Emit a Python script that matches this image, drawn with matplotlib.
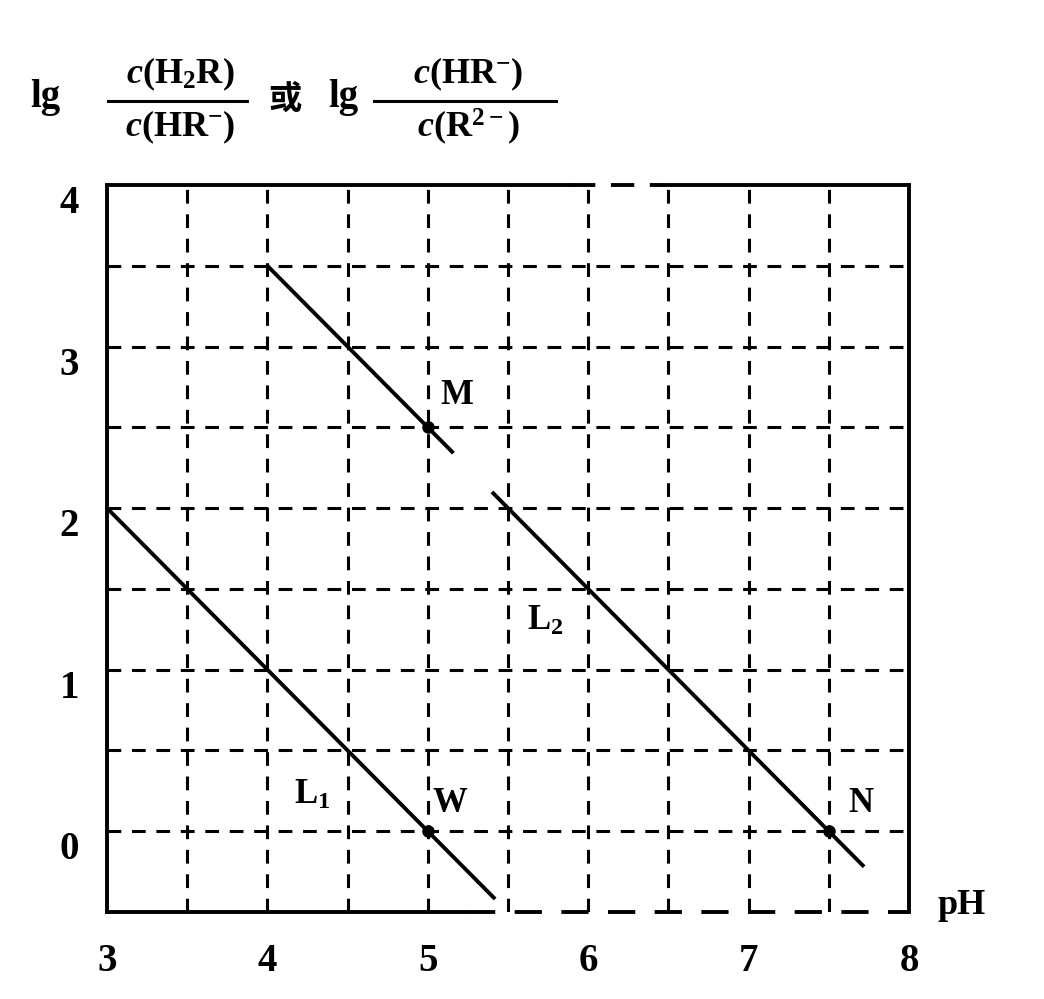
import matplotlib
matplotlib.use("Agg")
import matplotlib.pyplot as plt
from matplotlib.lines import Line2D

plt.rcParams['font.family'] = ['Liberation Serif', 'Noto Sans CJK SC', 'DejaVu Sans']
plt.rcParams['font.weight'] = 'bold'
plt.rcParams['mathtext.fontset'] = 'custom'
plt.rcParams['mathtext.rm'] = 'Liberation Serif:bold'
plt.rcParams['mathtext.it'] = 'Liberation Serif:italic:bold'
plt.rcParams['mathtext.bf'] = 'Liberation Serif:bold'

# data
ph_L1 = [3.0, 5.42]
lg_L1 = [2.0, -0.42]
ph_L2 = [5.4, 7.72]
lg_L2 = [2.1, -0.22]
ph_M = [4.0, 5.16]
lg_M = [3.5, 2.34]

pt_names = ['M', 'W', 'N']
pt_ph = [5.0, 5.0, 7.5]
pt_lg = [2.5, 0.0, 0.0]

x_ticks = [3, 4, 5, 6, 7, 8]
y_ticks = [0, 1, 2, 3, 4]
x_grid = [3.5, 4, 4.5, 5, 5.5, 6, 6.5, 7, 7.5]
y_grid = [0, 0.5, 1, 1.5, 2, 2.5, 3, 3.5]

W, H = 1044, 999
fig = plt.figure(figsize=(W / 100, H / 100), dpi=100)
ax = fig.add_axes([107 / W, 1 - 912 / H, (909 - 107) / W, (912 - 185) / H])
ax.set_xlim(3, 8)
ax.set_ylim(-0.5, 4)

dash = (0, (4.5, 3.5))
for x in x_grid:
    ax.plot([x, x], [-0.5, 4], color='black', lw=2.2, linestyle=dash, zorder=1)
for y in y_grid:
    ax.plot([3, 8], [y, y], color='black', lw=2.2, linestyle=dash, zorder=1)

for s in ax.spines.values():
    s.set_visible(False)

# frame: solid left/right, partly dashed top/bottom like the scan
frame = dict(color='black', lw=2.8, transform=ax.transAxes, clip_on=False, zorder=3)
ax.add_line(Line2D([0, 0], [0, 1], **frame))
ax.add_line(Line2D([1, 1], [0, 1], **frame))
ax.add_line(Line2D([0, 0.58], [1, 1], **frame))
ax.add_line(Line2D([0.58, 0.69], [1, 1], linestyle=(0, (6, 4)), **frame))
ax.add_line(Line2D([0.69, 1], [1, 1], **frame))
ax.add_line(Line2D([0, 0.45], [0, 0], **frame))
ax.add_line(Line2D([0.45, 1], [0, 0], linestyle=(0, (7, 5)), **frame))

for px, py in [(ph_L1, lg_L1), (ph_L2, lg_L2), (ph_M, lg_M)]:
    ax.plot(px, py, color='black', lw=2.8, solid_capstyle='butt', zorder=4)

ax.plot(pt_ph, pt_lg, 'o', color='black', ms=8, zorder=5)
offsets = {'M': (0.08, 0.2), 'W': (0.03, 0.17), 'N': (0.12, 0.17)}
for name, x, y in zip(pt_names, pt_ph, pt_lg):
    dx, dy = offsets[name]
    ax.text(x + dx, y + dy, name, fontsize=25, ha='left', va='center', zorder=6)

ax.text(5.73, 1.3, r'$\mathrm{L_2}$', fontsize=25, ha='center', va='center')
ax.text(4.28, 0.22, r'$\mathrm{L_1}$', fontsize=25, ha='center', va='center')

ax.set_xticks(x_ticks)
ax.set_yticks(y_ticks)
ax.set_xticklabels([str(v) for v in x_ticks], fontsize=28, fontweight='bold')
ax.set_yticklabels([str(v) for v in y_ticks], fontsize=28, fontweight='bold', va='top')
ax.tick_params(axis='x', length=0, pad=22)
ax.tick_params(axis='y', length=0, pad=20)

fig.text(938 / W, 1 - 905 / H, 'pH', fontsize=26, ha='left', va='center')

# y-axis label as two stacked fractions
fs = 26
def frac(xc, x0, x1, num, den):
    fig.text(xc / W, 1 - 74 / H, num, fontsize=fs, ha='center', va='center')
    fig.text(xc / W, 1 - 127 / H, den, fontsize=fs, ha='center', va='center')
    fig.add_artist(Line2D([x0 / W, x1 / W], [1 - 101 / H, 1 - 101 / H], color='black', lw=2.2))

fig.text(30 / W, 1 - 97 / H, 'lg', fontsize=28, ha='left', va='center')
frac(180, 108, 247, r'$c(\mathrm{H_2R})$', r'$c(\mathrm{HR^{-}})$')
fig.text(268 / W, 1 - 99 / H, '或', fontsize=24, ha='left', va='center',
         family=['Noto Sans CJK SC', 'DejaVu Sans'], fontweight='bold')
fig.text(328 / W, 1 - 97 / H, 'lg', fontsize=28, ha='left', va='center')
frac(468, 374, 556, r'$c(\mathrm{HR^{-}})$', r'$c(\mathrm{R^{2-}})$')

fig.savefig('out.png', dpi=100, facecolor='white')
